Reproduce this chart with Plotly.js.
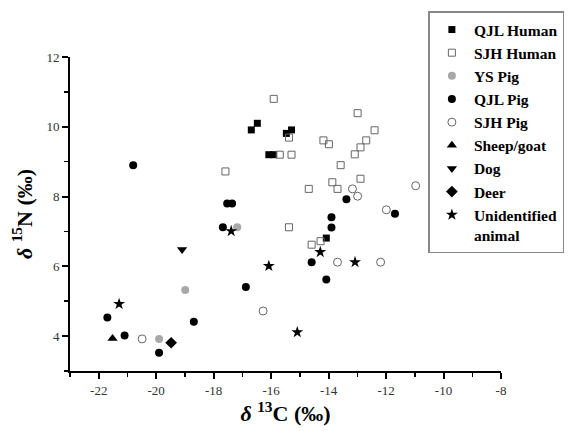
<!DOCTYPE html>
<html>
<head>
<meta charset="utf-8">
<script src="https://cdn.plot.ly/plotly-3.0.1.min.js"></script>
<style>html,body{margin:0;padding:0;background:#fff;}#chart{width:579px;height:431px;}</style>
</head>
<body>
<div id="chart"></div>
<script>
// δ13C (x) and δ15N (y) values per group
const qjlHumanX = [-16.48, -16.69, -15.29, -15.47, -16.08, -15.91, -14.08];
const qjlHumanY = [10.10, 9.91, 9.91, 9.81, 9.20, 9.20, 6.81];

const sjhHumanX = [-15.91, -12.99, -12.40, -15.38, -14.18, -13.99, -12.69, -12.89, -13.09, -15.70,
                   -15.29, -13.58, -17.59, -12.89, -14.69, -13.87, -13.69, -15.38, -14.28, -14.59];
const sjhHumanY = [10.80, 10.39, 9.90, 9.69, 9.61, 9.50, 9.61, 9.41, 9.21, 9.20,
                   9.20, 8.90, 8.72, 8.51, 8.22, 8.41, 8.22, 7.12, 6.72, 6.62];

const ysPigX = [-17.18, -18.99, -19.90];
const ysPigY = [7.12, 5.32, 3.92];

const qjlPigX = [-20.80, -17.53, -17.36, -17.68, -16.88, -18.69, -21.70, -21.10, -19.90,
                 -13.38, -11.69, -13.90, -13.90, -14.59, -14.08];
const qjlPigY = [8.90, 7.80, 7.80, 7.12, 5.41, 4.41, 4.53, 4.02, 3.52,
                 7.92, 7.51, 7.41, 7.11, 6.12, 5.62];

const sjhPigX = [-13.17, -12.99, -11.99, -10.97, -13.69, -12.19, -16.28, -20.49];
const sjhPigY = [8.22, 8.01, 7.62, 8.31, 6.12, 6.12, 4.72, 3.92];

const sheepX = [-21.52];
const sheepY = [3.93];

const dogX = [-19.10];
const dogY = [6.48];

const deerX = [-19.48];
const deerY = [3.81];

const unidX = [-17.39, -16.08, -14.29, -13.08, -15.09, -21.29];
const unidY = [7.01, 6.01, 6.41, 6.12, 4.11, 4.92];

const xTickVals = [-22, -20, -18, -16, -14, -12, -10, -8];
const xTickText = ["-22", "-20", "-18", "-16", "-14", "-12", "-10", "-8"];
const yTickVals = [4, 6, 8, 10, 12];
const yTickText = ["4", "6", "8", "10", "12"];

function tr(name, x, y, symbol, color, size, lineColor, lineWidth) {
  return {
    type: 'scatter', mode: 'markers', name: name, x: x, y: y,
    marker: {symbol: symbol, color: color, size: size,
             line: {color: lineColor || color, width: lineWidth || 0}},
    cliponaxis: false
  };
}

const data = [
  tr('QJL Human', qjlHumanX, qjlHumanY, 'square', '#000', 7),
  tr('SJH Human', sjhHumanX, sjhHumanY, 'square-open', '#666', 7, '#666', 1),
  tr('YS Pig', ysPigX, ysPigY, 'circle', '#a8a8a8', 8),
  tr('QJL Pig', qjlPigX, qjlPigY, 'circle', '#000', 8),
  tr('SJH Pig', sjhPigX, sjhPigY, 'circle-open', '#666', 8, '#666', 1),
  tr('Sheep/goat', sheepX, sheepY, 'triangle-up', '#000', 9),
  tr('Dog', dogX, dogY, 'triangle-down', '#000', 9),
  tr('Deer', deerX, deerY, 'diamond', '#000', 9),
  tr('Unidentified<br>animal', unidX, unidY, 'star', '#000', 9)
];

const SERIF = '"Liberation Serif", "Times New Roman", serif';
const tickFont = {family: SERIF, size: 13, color: '#333'};
const titleFont = {family: SERIF, size: 22, color: '#000'};

const layout = {
  width: 579, height: 431,
  margin: {l: 70, r: 78, t: 52, b: 60, pad: 0},
  paper_bgcolor: '#fff', plot_bgcolor: '#fff',
  showlegend: true,
  xaxis: {
    range: [-23, -8], showgrid: false, zeroline: false,
    showline: true, linecolor: '#000', linewidth: 2,
    ticks: 'outside', ticklen: 6, tickwidth: 2, tickcolor: '#000',
    tickvals: xTickVals, ticktext: xTickText, tickfont: tickFont,
    minor: {dtick: 1, tick0: -23, ticks: 'outside', ticklen: 4, tickwidth: 1.5, tickcolor: '#000', showgrid: false},
    title: {text: '<b><i>δ</i> <sup>13</sup>C (‰)</b>', font: titleFont, standoff: 4}
  },
  yaxis: {
    range: [3, 12], showgrid: false, zeroline: false,
    showline: true, linecolor: '#000', linewidth: 2,
    ticks: 'outside', ticklen: 6, tickwidth: 2, tickcolor: '#000',
    tickvals: yTickVals, ticktext: yTickText, tickfont: tickFont,
    minor: {dtick: 1, tick0: 3, ticks: 'outside', ticklen: 4, tickwidth: 1.5, tickcolor: '#000', showgrid: false},
    title: {text: '<b><i>δ</i> <sup>15</sup>N (‰)</b>', font: titleFont, standoff: 8}
  },
  legend: {
    x: 0.8315, y: 1.145, xanchor: 'left', yanchor: 'top',
    bgcolor: '#fff', bordercolor: '#888', borderwidth: 1.5,
    font: {family: SERIF, size: 15.5, color: '#000', weight: 'bold'},
    valign: 'top', tracegroupgap: 0, itemwidth: 34, maxheight: 420
  }
};

Plotly.newPlot('chart', data, layout, {displayModeBar: false, staticPlot: true});
</script>
</body>
</html>
